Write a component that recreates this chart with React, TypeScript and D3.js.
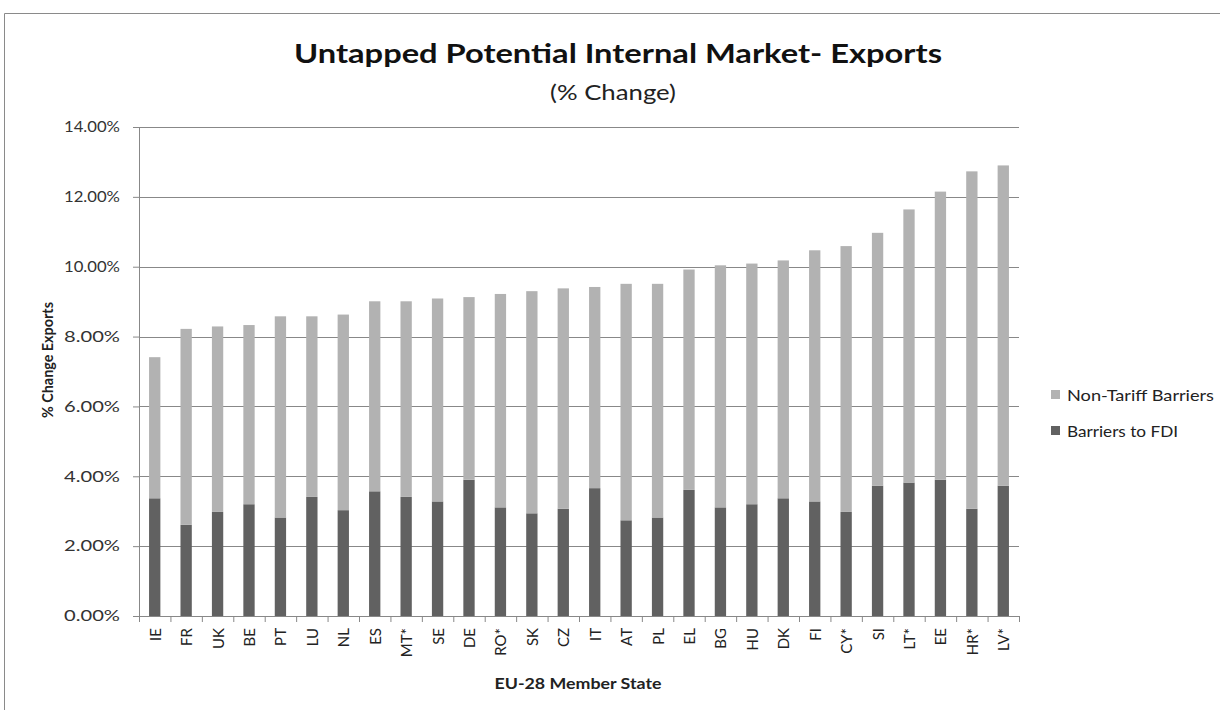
import React, { useEffect, useRef } from 'react';
import * as d3 from 'd3';

const states = ['IE', 'FR', 'UK', 'BE', 'PT', 'LU', 'NL', 'ES', 'MT*', 'SE', 'DE', 'RO*', 'SK', 'CZ',
  'IT', 'AT', 'PL', 'EL', 'BG', 'HU', 'DK', 'FI', 'CY*', 'SI', 'LT*', 'EE', 'HR*', 'LV*'];

// % change, bottom segment
const fdi = [3.37, 2.61, 2.98, 3.20, 2.82, 3.41, 3.03, 3.57, 3.41, 3.28, 3.90, 3.11, 2.94, 3.07,
  3.66, 2.74, 2.82, 3.61, 3.11, 3.20, 3.37, 3.28, 2.98, 3.73, 3.82, 3.90, 3.07, 3.73];

// % change, top segment
const ntb = [4.04, 5.61, 5.31, 5.13, 5.76, 5.17, 5.60, 5.44, 5.60, 5.81, 5.23, 6.11, 6.36, 6.31,
  5.76, 6.77, 6.69, 6.31, 6.93, 6.89, 6.81, 7.19, 7.61, 7.24, 7.82, 8.25, 9.66, 9.17];

const yTicks = [0, 2, 4, 6, 8, 10, 12, 14];

const seriesNames = ['Non-Tariff Barriers', 'Barriers to FDI'];
const seriesColors = ['#b2b2b2', '#616161'];
const legendWidths = [147, 111];

const FONT = "Lato, 'Open Sans', sans-serif";

const App = () => {
  const svgRef = useRef(null);

  useEffect(() => {
    const W = 1220;
    const H = 710;
    const margin = { top: 127, left: 139, right: 201, bottom: 94 };
    const width = W - margin.left - margin.right;
    const height = H - margin.top - margin.bottom;

    const root = d3.select(svgRef.current);
    root.selectAll('*').remove();
    root.attr('width', W).attr('height', H);

    root.append('rect').attr('width', W).attr('height', H).attr('fill', '#fff');

    // outer chart frame
    root.append('path')
      .attr('d', `M4.5,${H} V13.5 H${W}`)
      .attr('fill', 'none')
      .attr('stroke', '#8a8a8a')
      .attr('stroke-width', 1);

    root.append('text')
      .attr('x', 618)
      .attr('y', 63)
      .attr('text-anchor', 'middle')
      .attr('font-family', FONT)
      .attr('font-weight', 'bold')
      .attr('font-size', 26)
      .attr('textLength', 648)
      .attr('lengthAdjust', 'spacingAndGlyphs')
      .attr('fill', '#111')
      .text('Untapped Potential Internal Market- Exports');

    root.append('text')
      .attr('x', 613)
      .attr('y', 100)
      .attr('text-anchor', 'middle')
      .attr('font-family', FONT)
      .attr('font-size', 21)
      .attr('textLength', 126)
      .attr('lengthAdjust', 'spacingAndGlyphs')
      .attr('fill', '#222')
      .text('(% Change)');

    const svg = root.append('g').attr('transform', `translate(${margin.left},${margin.top})`);

    const x = d3.scaleBand().domain(states).range([0, width]).paddingInner(0.64).paddingOuter(0.32);
    const y = d3.scaleLinear().domain([0, 14]).range([height, 0]);

    // gridlines
    svg.append('g')
      .selectAll('line')
      .data(yTicks.filter((t) => t > 0))
      .join('line')
      .attr('x1', 0)
      .attr('x2', width)
      .attr('y1', (d) => Math.round(y(d)) + 0.5)
      .attr('y2', (d) => Math.round(y(d)) + 0.5)
      .attr('stroke', '#888')
      .attr('stroke-width', 1);

    const stackData = states.map((s, i) => ({ state: s, fdi: fdi[i], ntb: ntb[i] }));
    const stacked = d3.stack().keys(['fdi', 'ntb'])(stackData);
    const colorFor = { fdi: seriesColors[1], ntb: seriesColors[0] };

    svg.append('g')
      .selectAll('g')
      .data(stacked)
      .join('g')
      .attr('fill', (d) => colorFor[d.key])
      .selectAll('rect')
      .data((d) => d)
      .join('rect')
      .attr('x', (d) => x(d.data.state))
      .attr('width', x.bandwidth())
      .attr('y', (d) => y(d[1]))
      .attr('height', (d) => y(d[0]) - y(d[1]));

    // y axis
    const yAxis = svg.append('g')
      .call(d3.axisLeft(y).tickValues(yTicks).tickSize(6).tickPadding(13).tickFormat((d) => d3.format('.2f')(d) + '%'));
    yAxis.select('.domain').attr('stroke', '#888');
    yAxis.selectAll('.tick line').attr('stroke', '#888');
    yAxis.selectAll('text')
      .attr('font-family', FONT)
      .attr('font-size', 15)
      .attr('textLength', 56)
      .attr('lengthAdjust', 'spacingAndGlyphs')
      .attr('fill', '#333');

    // x axis line and ticks between categories
    const step = x.step();
    const xg = svg.append('g').attr('transform', `translate(0,${height})`);
    xg.append('line').attr('x1', 0).attr('x2', width).attr('y1', 0.5).attr('y2', 0.5).attr('stroke', '#888');
    xg.selectAll('line.tk')
      .data(d3.range(states.length + 1))
      .join('line')
      .attr('class', 'tk')
      .attr('x1', (i) => i * step + 0.5)
      .attr('x2', (i) => i * step + 0.5)
      .attr('y1', 0)
      .attr('y2', 6)
      .attr('stroke', '#888');

    xg.selectAll('text.lbl')
      .data(states)
      .join('text')
      .attr('class', 'lbl')
      .attr('transform', (d) => `translate(${x(d) + x.bandwidth() / 2 + 6},12) rotate(-90)`)
      .attr('text-anchor', 'end')
      .attr('font-family', FONT)
      .attr('font-size', 15)
      .attr('fill', '#222')
      .text((d) => d);

    svg.append('text')
      .attr('x', 439)
      .attr('y', height + 73)
      .attr('text-anchor', 'middle')
      .attr('font-family', FONT)
      .attr('font-weight', 'bold')
      .attr('font-size', 16)
      .attr('textLength', 167)
      .attr('lengthAdjust', 'spacingAndGlyphs')
      .attr('fill', '#222')
      .text('EU-28 Member State');

    svg.append('text')
      .attr('transform', `translate(-86,${360 - margin.top}) rotate(-90)`)
      .attr('text-anchor', 'middle')
      .attr('font-family', FONT)
      .attr('font-weight', 'bold')
      .attr('font-size', 15)
      .attr('textLength', 116)
      .attr('lengthAdjust', 'spacingAndGlyphs')
      .attr('fill', '#222')
      .text('% Change Exports');

    // legend
    const legend = root.append('g').attr('transform', 'translate(1051,0)');
    const items = legend.selectAll('g')
      .data(seriesNames)
      .join('g')
      .attr('transform', (d, i) => `translate(0,${395 + i * 36})`);
    items.append('rect')
      .attr('x', 0)
      .attr('y', -5)
      .attr('width', 9)
      .attr('height', 9)
      .attr('fill', (d, i) => seriesColors[i]);
    items.append('text')
      .attr('x', 16)
      .attr('y', 6)
      .attr('font-family', FONT)
      .attr('font-size', 16)
      .attr('textLength', (d, i) => legendWidths[i])
      .attr('lengthAdjust', 'spacingAndGlyphs')
      .attr('fill', '#222')
      .text((d) => d);
  }, []);

  return (
    <div style={{ position: 'absolute', left: 0, top: 0 }}>
      <svg ref={svgRef} style={{ display: 'block' }}></svg>
    </div>
  );
};

export default App;
